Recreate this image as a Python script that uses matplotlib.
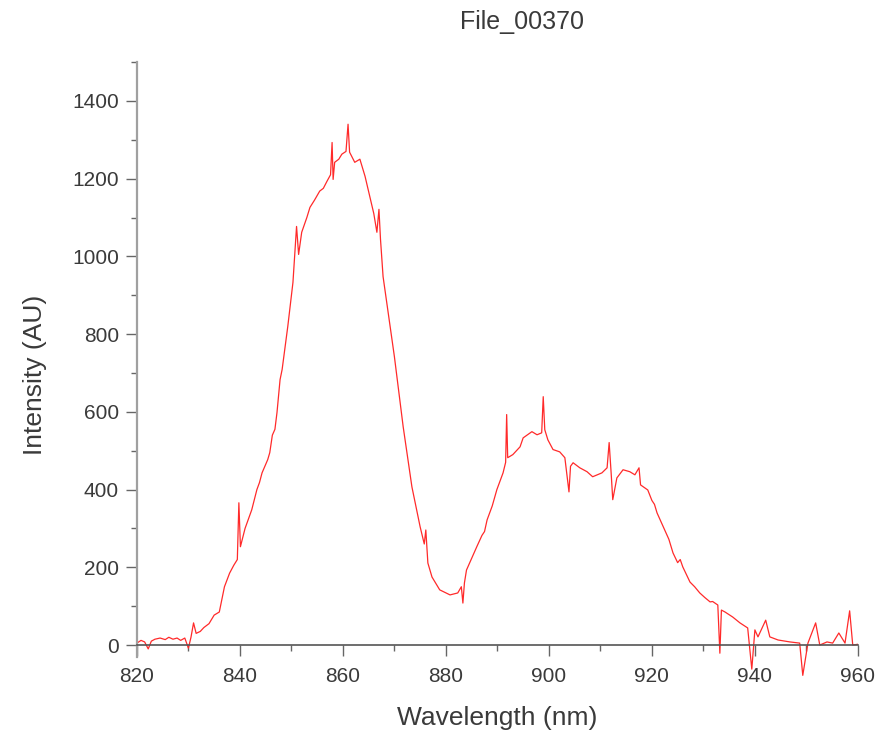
import matplotlib
matplotlib.use("Agg")
import matplotlib.pyplot as plt
from matplotlib.ticker import MultipleLocator

# spectrum (wavelength in nm, intensity in AU)
wavelength = [
    820, 820.8, 821.5, 822.2, 822.8, 823.5, 824.5, 825.5, 826.2, 827, 827.8, 828.5,
    829.3, 830, 830.5, 831, 831.5, 832.3, 833, 834, 835, 836, 837, 838, 838.8, 839.5,
    839.8, 840.1, 841, 842.3, 843.3, 843.8, 844.3, 845.4, 845.8, 846.3, 846.8, 847.2,
    847.8, 848.2, 849.3, 850.3, 851, 851.4, 852, 853, 853.6, 854.5, 855.5, 856.2,
    856.9, 857.6, 857.9, 858.1, 858.4, 859.2, 859.8, 860.6, 861, 861.3, 862.3, 863.3,
    864.3, 865.2, 866, 866.6, 867, 867.3, 867.8, 868.7, 870, 871.7, 873.4, 875,
    875.8, 876.1, 876.5, 877.3, 878.8, 880.8, 882.3, 883, 883.3, 883.6, 884, 886,
    887, 887.5, 888, 889, 889.9, 891.1, 891.6, 891.8, 892, 893, 894.4, 895,
    896.7, 897.7, 898.6, 898.9, 899.2, 899.8, 900.8, 902.1, 903.1, 903.9, 904.2, 904.7,
    906, 907.4, 908.5, 910.3, 911.3, 911.7, 912.1, 912.4, 913.2, 914.4, 915.7, 916.7,
    917.5, 917.8, 919.2, 920, 920.5, 921, 922.5, 923.3, 924.1, 925, 925.5, 926,
    927.4, 928.3, 929.3, 930.3, 931.3, 931.8, 932.8, 933.2, 933.5, 934.2, 935.7, 937.1,
    938.6, 939.4, 940, 940.6, 941.4, 942.1, 942.9, 944.5, 946.8, 948.7, 949.3, 950.3,
    951.8, 952.6, 954, 955.1, 956.3, 957.5, 958.4, 959, 960,
]
intensity = [
    5, 12, 8, -10, 10, 15, 18, 14, 20, 15, 18, 12,
    18, -8, 20, 57, 30, 35, 45, 55, 77, 85, 150, 185, 205, 220,
    366, 253, 300, 348, 400, 418, 443, 477, 495, 540, 555, 598,
    683, 709, 820, 933, 1077, 1005, 1062, 1100, 1126, 1145, 1168, 1175,
    1193, 1210, 1293, 1198, 1242, 1250, 1263, 1270, 1340, 1268, 1242, 1250,
    1206, 1155, 1110, 1062, 1121, 1044, 948, 863, 742, 562, 407, 304,
    260, 296, 211, 175, 142, 129, 134, 150, 108, 160, 193, 253,
    282, 292, 322, 358, 400, 443, 470, 593, 482, 490, 510, 533,
    549, 541, 546, 639, 554, 528, 503, 497, 482, 394, 460, 469,
    456, 446, 433, 443, 456, 521, 440, 374, 430, 451, 446, 438,
    456, 412, 399, 372, 362, 340, 296, 272, 237, 212, 220, 201,
    162, 150, 134, 122, 111, 112, 103, -21, 90, 85, 72, 57,
    44, -62, 39, 21, 44, 64, 21, 13, 8, 5, -78, 5,
    57, 0, 8, 5, 31, 5, 88, 0, 2,
]

text_col = "#3a3a3a"
plt.rcParams["font.family"] = ["Liberation Sans", "DejaVu Sans"]

fig = plt.figure(figsize=(8.89, 7.35), dpi=100)
ax = fig.add_axes([0.154, 0.0748, 0.811, 0.8408])

ax.plot(wavelength, intensity, color="#ff2a2a", lw=0.9)

ax.set_xlim(820, 960)
ax.set_ylim(-90, 1500)

for s in ["top", "right"]:
    ax.spines[s].set_visible(False)
ax.spines["bottom"].set_position(("data", 0))
ax.spines["left"].set_bounds(-30, 1500)
ax.spines["left"].set_color("#a0a0a0")
ax.spines["left"].set_linewidth(1.6)
ax.spines["bottom"].set_color("#555555")
ax.spines["bottom"].set_linewidth(1.2)

ax.xaxis.set_major_locator(MultipleLocator(20))
ax.xaxis.set_minor_locator(MultipleLocator(10))
ax.yaxis.set_major_locator(MultipleLocator(200))
ax.yaxis.set_minor_locator(MultipleLocator(100))
ax.tick_params(which="major", length=8, width=1, color="#666666",
               labelsize=15, labelcolor=text_col, direction="out", pad=5)
ax.tick_params(axis="x", which="major", pad=8)
ax.tick_params(which="minor", length=4, width=1, color="#666666", direction="out")

fig.text(0.587, 1 - 22 / 735, "File_00370", ha="center", va="center",
         fontsize=18, color=text_col)
fig.text(497 / 889, 1 - 718 / 735, "Wavelength (nm)", ha="center", va="center",
         fontsize=19, color=text_col)
fig.text(35 / 889, 1 - 375 / 735, "Intensity (AU)", ha="center", va="center",
         rotation=90, fontsize=19, color=text_col)

fig.savefig("out.png", dpi=100)
